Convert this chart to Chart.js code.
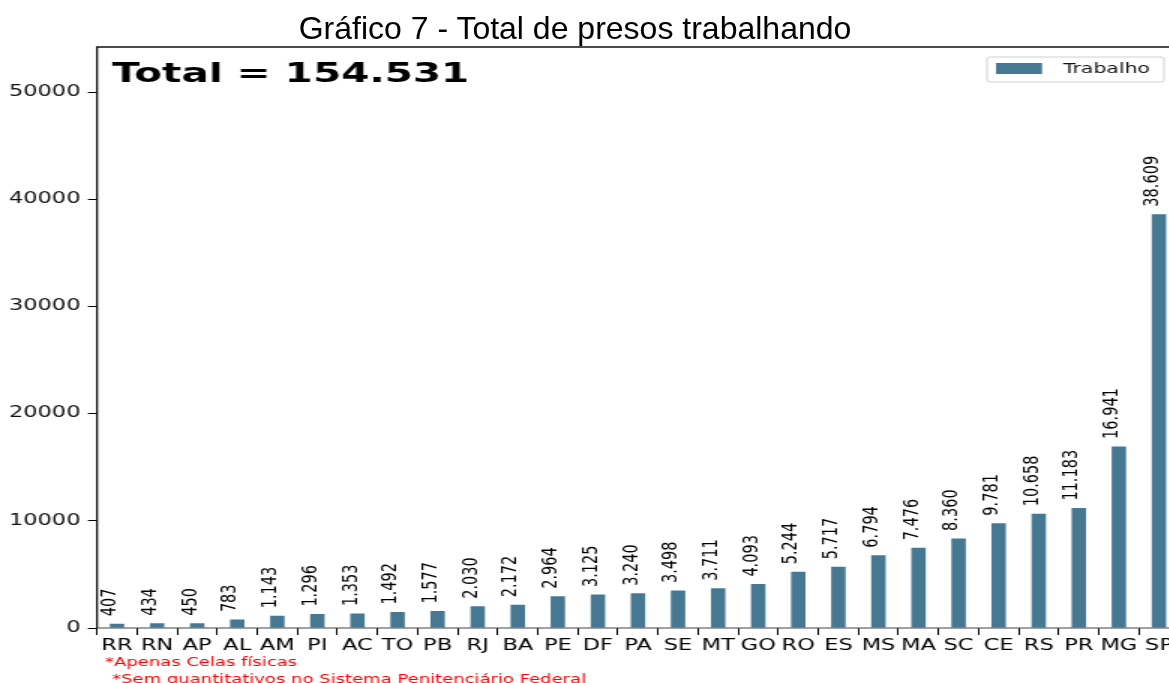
<!DOCTYPE html>
<html><head><meta charset="utf-8">
<script src="https://cdn.jsdelivr.net/npm/chart.js@4.4.1/dist/chart.umd.min.js"></script>
<style>
html,body{margin:0;padding:0;background:#fff;overflow:hidden;width:1169px;height:683px;}
#title{position:absolute;left:575px;top:12px;transform:translateX(-50%);font-family:"Liberation Sans",Arial,sans-serif;font-size:32px;line-height:32px;white-space:nowrap;color:#000;}
#wrap{position:absolute;left:0;top:0;width:788px;height:683px;transform:scaleX(1.5);transform-origin:0 0;}
</style></head><body>
<div id="wrap"><canvas id="c" width="788" height="683" style="width:788px;height:683px"></canvas></div>
<div id="title">Gráfico 7 - Total de presos trabalhando</div>
<script>
const categories = ['RR','RN','AP','AL','AM','PI','AC','TO','PB','RJ','BA','PE','DF','PA','SE','MT','GO','RO','ES','MS','MA','SC','CE','RS','PR','MG','SP'];
const trabalho = [407,434,450,783,1143,1296,1353,1492,1577,2030,2172,2964,3125,3240,3498,3711,4093,5244,5717,6794,7476,8360,9781,10658,11183,16941,38609];
const yTicks = [0,10000,20000,30000,40000,50000];
const seriesName = 'Trabalho';
const totalLabel = 'Total = 154.531';
const footnotes = ['*Apenas Celas físicas', '*Sem quantitativos no Sistema Penitenciário Federal'];
const barColor = '#467892';

function fmt(v){ return String(v).replace(/\B(?=(\d{3})+(?!\d))/g,'.'); }

const frame = {
  id:'frame',
  afterDraw(chart){
    const {ctx, chartArea:a} = chart;
    ctx.save();
    ctx.strokeStyle='#111'; ctx.lineWidth=1.3;
    ctx.beginPath();
    ctx.moveTo(a.left,a.bottom); ctx.lineTo(a.left,a.top); ctx.lineTo(a.right,a.top); ctx.lineTo(a.right,a.bottom);
    ctx.stroke();
    ctx.strokeStyle='#444'; ctx.lineWidth=1.2;
    ctx.beginPath(); ctx.moveTo(a.left,a.bottom); ctx.lineTo(a.right,a.bottom); ctx.stroke();
    // legend (custom, top-right inside plot)
    const lx = a.right-128, ly = a.top+10;
    ctx.fillStyle='rgba(255,255,255,0.8)';
    ctx.strokeStyle='#d0d0d0'; ctx.lineWidth=1;
    ctx.beginPath(); ctx.roundRect(lx, ly, 118, 25, 2); ctx.fill(); ctx.stroke();
    ctx.fillStyle=chart.data.datasets[0].backgroundColor;
    ctx.fillRect(lx+6, ly+6, 30.7, 11);
    ctx.fillStyle='#111';
    ctx.font='13.6px "DejaVu Sans"';
    ctx.textAlign='left'; ctx.textBaseline='middle';
    ctx.fillText(chart.data.datasets[0].label, lx+50.7, ly+12.5);
    // total text
    ctx.fillStyle='#000';
    ctx.font='bold 27px "DejaVu Sans"';
    ctx.textAlign='left'; ctx.textBaseline='alphabetic';
    ctx.fillText(totalLabel, a.left+10, 82);
    // footnotes
    ctx.fillStyle='#ff0000';
    ctx.font='12px "DejaVu Sans"';
    ctx.fillText(footnotes[0], 70, 666);
    ctx.fillText(footnotes[1], 74.7, 683);
    ctx.restore();
  }
};

const valueLabels = {
  id:'valueLabels',
  afterDatasetsDraw(chart){
    const {ctx} = chart;
    const meta = chart.getDatasetMeta(0);
    ctx.save();
    ctx.fillStyle='#000';
    ctx.font='14.5px "DejaVu Sans"';
    ctx.textAlign='left'; ctx.textBaseline='middle';
    meta.data.forEach((bar,i)=>{
      ctx.save();
      ctx.translate(bar.x-4.5, bar.y-7.5);
      ctx.rotate(-Math.PI/2);
      ctx.fillText(fmt(trabalho[i]),0,0);
      ctx.restore();
    });
    ctx.restore();
  }
};

new Chart(document.getElementById('c'), {
  type:'bar',
  data:{labels:categories, datasets:[{label:seriesName, data:trabalho, backgroundColor:barColor, borderWidth:0, barPercentage:0.36, categoryPercentage:1}]},
  options:{
    responsive:false, animation:false, devicePixelRatio:1,
    layout:{padding:{top:47,right:2,bottom:0,left:0}},
    plugins:{
      legend:{display:false},
      tooltip:{enabled:false}, title:{display:false}
    },
    scales:{
      x:{
        grid:{drawOnChartArea:false, tickLength:7, tickColor:'#000', tickWidth:1},
        border:{display:false},
        ticks:{autoSkip:false, maxRotation:0, padding:2, color:'#000', font:{family:'DejaVu Sans', size:15}},
        afterFit(s){ s.height=55; }
      },
      y:{
        min:0, max:54200,
        afterBuildTicks(s){ s.ticks = yTicks.map(v=>({value:v})); },
        grid:{drawOnChartArea:false, tickLength:6, tickColor:'#000'},
        border:{display:false},
        ticks:{padding:5, color:'#111', font:{family:'DejaVu Sans', size:15}, callback:v=>String(v)},
        afterFit(s){ s.width=64.67; }
      }
    }
  },
  plugins:[frame, valueLabels]
});
</script>
</body></html>
